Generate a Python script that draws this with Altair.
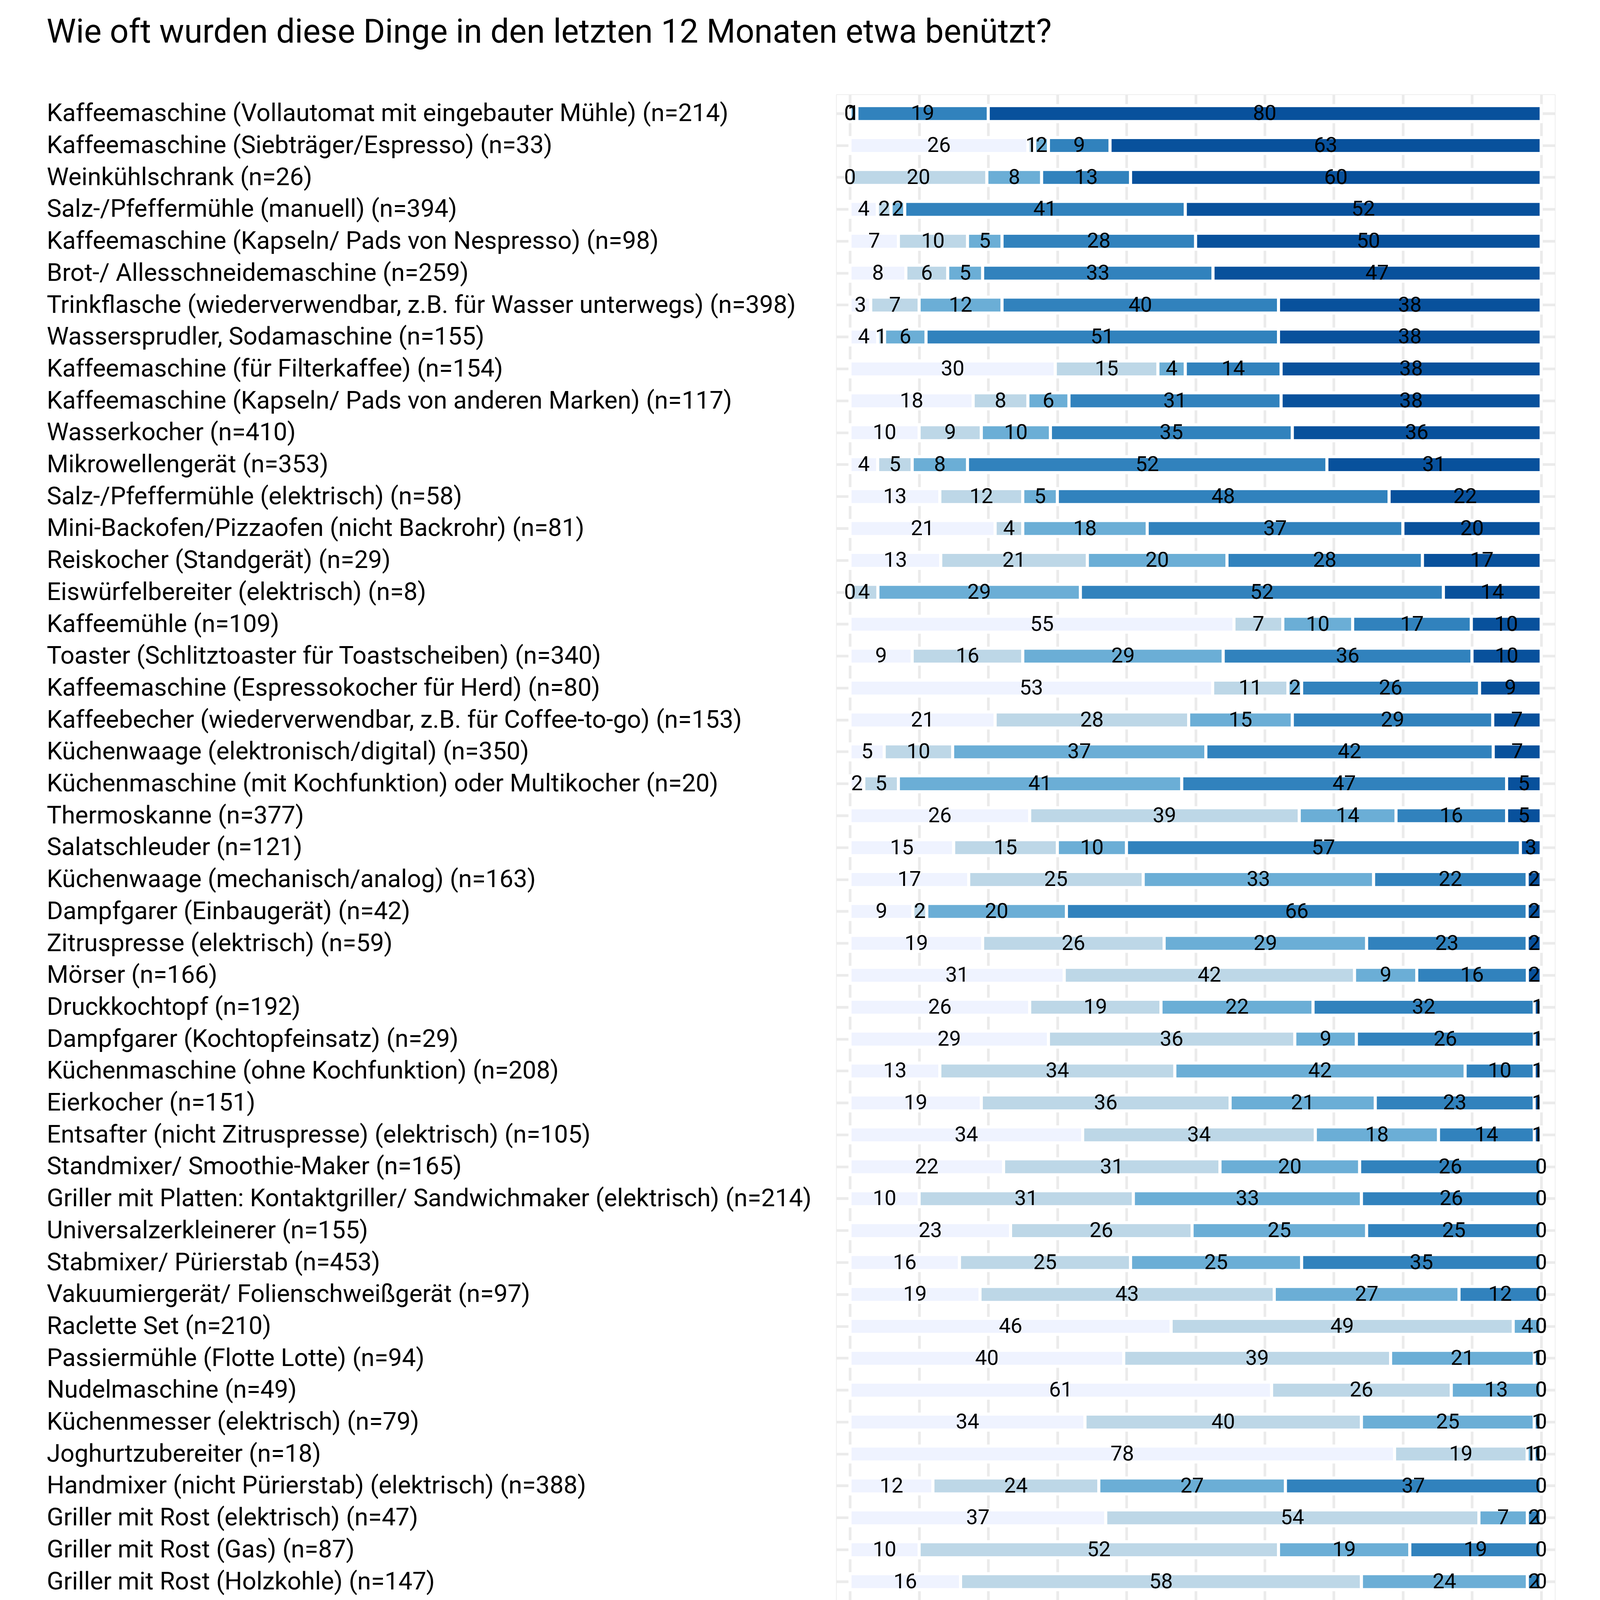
import altair as alt
import pandas as pd

items = [
    "Kaffeemaschine (Vollautomat mit eingebauter Mühle) (n=214)",
    "Kaffeemaschine (Siebträger/Espresso) (n=33)",
    "Weinkühlschrank (n=26)",
    "Salz-/Pfeffermühle (manuell) (n=394)",
    "Kaffeemaschine (Kapseln/ Pads von Nespresso) (n=98)",
    "Brot-/ Allesschneidemaschine (n=259)",
    "Trinkflasche (wiederverwendbar, z.B. für Wasser unterwegs) (n=398)",
    "Wassersprudler, Sodamaschine (n=155)",
    "Kaffeemaschine (für Filterkaffee) (n=154)",
    "Kaffeemaschine (Kapseln/ Pads von anderen Marken) (n=117)",
    "Wasserkocher (n=410)",
    "Mikrowellengerät (n=353)",
    "Salz-/Pfeffermühle (elektrisch) (n=58)",
    "Mini-Backofen/Pizzaofen (nicht Backrohr) (n=81)",
    "Reiskocher (Standgerät) (n=29)",
    "Eiswürfelbereiter (elektrisch) (n=8)",
    "Kaffeemühle (n=109)",
    "Toaster (Schlitztoaster für Toastscheiben) (n=340)",
    "Kaffeemaschine (Espressokocher für Herd) (n=80)",
    "Kaffeebecher (wiederverwendbar, z.B. für Coffee-to-go) (n=153)",
    "Küchenwaage (elektronisch/digital) (n=350)",
    "Küchenmaschine (mit Kochfunktion) oder Multikocher (n=20)",
    "Thermoskanne (n=377)",
    "Salatschleuder (n=121)",
    "Küchenwaage (mechanisch/analog) (n=163)",
    "Dampfgarer (Einbaugerät) (n=42)",
    "Zitruspresse (elektrisch) (n=59)",
    "Mörser (n=166)",
    "Druckkochtopf (n=192)",
    "Dampfgarer (Kochtopfeinsatz) (n=29)",
    "Küchenmaschine (ohne Kochfunktion) (n=208)",
    "Eierkocher (n=151)",
    "Entsafter (nicht Zitruspresse) (elektrisch) (n=105)",
    "Standmixer/ Smoothie-Maker (n=165)",
    "Griller mit Platten: Kontaktgriller/ Sandwichmaker (elektrisch) (n=214)",
    "Universalzerkleinerer (n=155)",
    "Stabmixer/ Pürierstab (n=453)",
    "Vakuumiergerät/ Folienschweißgerät (n=97)",
    "Raclette Set (n=210)",
    "Passiermühle (Flotte Lotte) (n=94)",
    "Nudelmaschine (n=49)",
    "Küchenmesser (elektrisch) (n=79)",
    "Joghurtzubereiter (n=18)",
    "Handmixer (nicht Pürierstab) (elektrisch) (n=388)",
    "Griller mit Rost (elektrisch) (n=47)",
    "Griller mit Rost (Gas) (n=87)",
    "Griller mit Rost (Holzkohle) (n=147)",
    "Fritteuse (n=98)",
    "Fleischwolf (n=101)",
    "Fondueset (n=196)",
    "Eismaschine für Speiseeis (n=42)",
    "Einkochautomat (n=7)",
    "Dosenöffner (elektrisch) (n=27)",
    "Dosenöffner (manuell) (n=405)",
    "Dörrapparat (n=82)",
    "Dampfgarer (Standgerät) (n=28)",
    "Brotbackautomat (n=52)",
    "Bratenthermometer (elektronisch/digital) (n=61)",
    "Bratenthermometer (mechanisch/analog) (n=67)",
]

categories = [
    "(Nicht benutzt)",
    "1 bis 11 Mal im Jahr",
    "1 bis 3 Mal im Monat",
    "ein-/mehrmals pro Woche",
    "(fast) täglich",
]
colors = ["#eff3ff", "#bdd7e7", "#6baed6", "#3182bd", "#08519c"]

nicht_benutzt = [0, 26, 0, 4, 7, 8, 3, 4, 30, 18, 10, 4, 13, 21, 13, 0, 55, 9, 53, 21,
                 5, 2, 26, 15, 17, 9, 19, 31, 26, 29, 13, 19, 34, 22, 10, 23, 16, 19, 46, 40,
                 61, 34, 78, 12, 37, 10, 16, 20, 32, 54, 56, 68, 11, 33, 45, 42, 51, 30, 57]
pro_jahr = [0, 1, 20, 2, 10, 6, 7, 1, 15, 8, 9, 5, 12, 4, 21, 4, 7, 16, 11, 28,
            10, 5, 39, 15, 25, 2, 26, 42, 19, 36, 34, 36, 34, 31, 31, 26, 25, 43, 49, 39,
            26, 40, 19, 24, 54, 52, 58, 33, 56, 46, 37, 32, 28, 33, 49, 17, 26, 60, 22]
pro_monat = [1, 2, 8, 2, 5, 5, 12, 6, 4, 6, 10, 8, 5, 18, 20, 29, 10, 29, 2, 15,
             37, 41, 14, 10, 33, 20, 29, 9, 22, 9, 42, 21, 18, 20, 33, 25, 25, 27, 4, 21,
             13, 25, 1, 27, 7, 19, 24, 33, 12, 0, 5, 0, 18, 22, 3, 20, 9, 9, 17]
pro_woche = [19, 9, 13, 41, 28, 33, 40, 51, 14, 31, 35, 52, 48, 37, 28, 52, 17, 36, 26, 29,
             42, 47, 16, 57, 22, 66, 23, 16, 32, 26, 10, 23, 14, 26, 26, 25, 35, 12, 0, 1,
             0, 1, 1, 37, 2, 19, 2, 15, 0, 0, 2, 0, 43, 12, 4, 21, 13, 1, 5]
taeglich = [80, 63, 60, 52, 50, 47, 38, 38, 38, 38, 36, 31, 22, 20, 17, 14, 10, 10, 9, 7,
            7, 5, 5, 3, 2, 2, 2, 2, 1, 1, 1, 1, 1, 0, 0, 0, 0, 0, 0, 0,
            0, 0, 0, 0, 0, 0, 0, 0, 0, 0, 0, 0, 0, 0, 0, 0, 0, 0, 0]

series = [nicht_benutzt, pro_jahr, pro_monat, pro_woche, taeglich]

rows = []
for i, item in enumerate(items):
    for k, cat in enumerate(categories):
        rows.append({"item": item, "cat": cat, "order": k, "value": series[k][i]})
df = pd.DataFrame(rows)

FONT = "Roboto"

base = alt.Chart(df).transform_stack(
    stack="value",
    groupby=["item"],
    sort=[alt.SortField("order", order="ascending")],
    as_=["x0", "x1"],
    offset="normalize",
).transform_calculate(
    mid="(datum.x0 + datum.x1) / 2"
)

xscale = alt.Scale(domain=[-0.02, 1.02], nice=False, zero=False)
yscale = alt.Scale(paddingInner=0.5, paddingOuter=0.35)

xaxis = alt.Axis(
    values=[0, 0.1, 0.2, 0.3, 0.4, 0.5, 0.6, 0.7, 0.8, 0.9, 1.0],
    format=".0%",
    labelExpr="round(datum.value * 10) % 2 == 0 ? datum.label : ''",
    grid=True, gridColor="#ebebeb", gridWidth=7,
    domain=False, ticks=False, tickSize=0,
    labelFont=FONT, labelFontSize=65, labelColor="#4d4d4d",
    labelPadding=88, labelBaseline="alphabetic", labelFlush=False, labelOverlap=False,
    title=["Anm.: Nur Geräte mit ungewichteter Anzahl der Nennungen > 10",
           "Quelle: AK Konsummonitor"],
    titleFont=FONT, titleFontSize=73, titleFontWeight="normal", titleColor="black",
    titleAnchor="end", titleAlign="right", titleBaseline="alphabetic",
    titleY=582, titleLineHeight=79,
)
yaxis = alt.Axis(
    title=None,
    grid=True, gridColor="#ebebeb", gridWidth=7, bandPosition=0.5,
    domain=False, ticks=False, tickSize=0,
    labelAlign="left", labelPadding=2073, labelBaseline="middle",
    labelFont=FONT, labelFontSize=65, labelColor="black", labelLimit=3000,
)

bars = base.mark_bar(stroke="white", strokeWidth=8).encode(
    x=alt.X("x0:Q", scale=xscale, axis=xaxis),
    x2="x1:Q",
    y=alt.Y("item:N", sort=items, scale=yscale, axis=yaxis),
    color=alt.Color(
        "cat:N",
        scale=alt.Scale(domain=categories, range=colors),
        legend=alt.Legend(
            title=None, orient="none", legendX=-337, legendY=5165,
            columns=3, symbolType="square", symbolSize=15376,
            symbolStrokeWidth=0, symbolOpacity=1,
            labelFont=FONT, labelFontSize=65, labelColor="black",
            labelOffset=38, columnPadding=24, rowPadding=20, padding=0,
            labelLimit=2000,
        ),
    ),
)

labels = base.mark_text(font=FONT, fontSize=55, color="black",
                        align="center", baseline="middle").encode(
    x=alt.X("mid:Q", scale=xscale),
    y=alt.Y("item:N", sort=items, scale=yscale),
    text=alt.Text("value:Q", format="d"),
)

chart = alt.layer(bars, labels).properties(
    width=1887,
    height=4960,
    autosize=alt.AutoSizeParams(type="none"),
    padding={"left": 2187, "top": 165, "right": 110, "bottom": 740},
    title=alt.TitleParams(
        "Wie oft wurden diese Dinge in den letzten 12 Monaten etwa benützt?",
        font=FONT, fontSize=87, fontWeight="normal", color="black",
        anchor="start", frame="bounds", baseline="alphabetic", offset=49,
    ),
).configure_view(strokeWidth=0).configure(background="white")

chart.save("out.html", embed_options={"renderer": "svg", "actions": False})
